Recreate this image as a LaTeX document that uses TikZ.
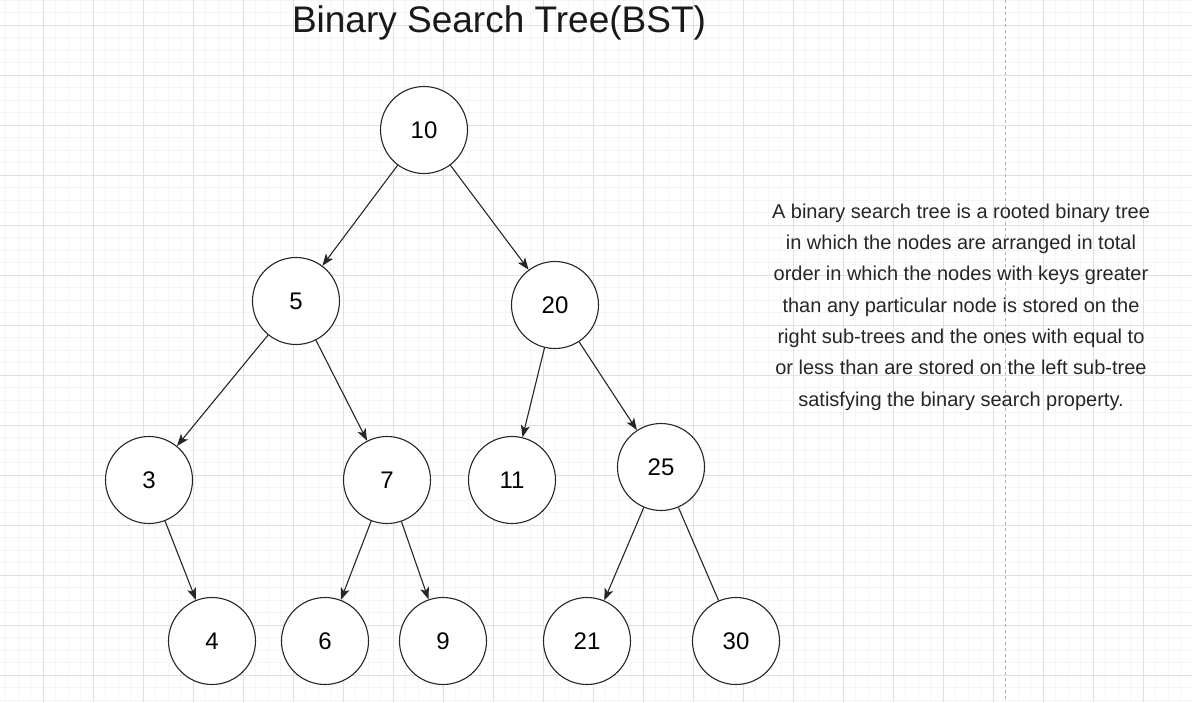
\documentclass[tikz,border=0pt]{standalone}
\usepackage{fontspec}
\setmainfont{Liberation Sans}
\usetikzlibrary{arrows.meta}
\begin{document}
\begin{tikzpicture}[x=1pt,y=-1pt,
  bst/.style={circle,draw=black!85,line width=1.1pt,fill=white,minimum size=87pt,inner sep=0pt,font=\fontsize{24}{28}\selectfont},
  edge/.style={draw=black!85,line width=1.1pt,-{Stealth[length=12pt,width=9pt,inset=3pt]}},
  plain/.style={draw=black!85,line width=1.1pt}]
\useasboundingbox (0,0) rectangle (1192,702);
\fill[white] (0,0) rectangle (1192,702);
% grid
\foreach \i in {0,...,95} {\draw[black!4,line width=0.6pt] (5.5+12.5*\i,0) -- (5.5+12.5*\i,702);}
\foreach \i in {0,...,56} {\draw[black!4,line width=0.6pt] (0,12.5*\i) -- (1192,12.5*\i);}
\foreach \i in {0,...,23} {\draw[black!12,line width=0.8pt] (43+50*\i,0) -- (43+50*\i,702);}
\foreach \i in {0,...,13} {\draw[black!12,line width=0.8pt] (0,25+50*\i) -- (1192,25+50*\i);}
\draw[black!30,dashed,line width=0.8pt] (1005,0) -- (1005,702);
% title
\node[anchor=base,font=\fontsize{37}{40}\selectfont,text=black!90] (title) at (499,32) {Binary Search Tree(BST)};
% nodes
\node[bst] (n10) at (424,130) {10};
\node[bst] (n5) at (296,301) {5};
\node[bst] (n20) at (555,305) {20};
\node[bst] (n3) at (149,480) {3};
\node[bst] (n7) at (387,480) {7};
\node[bst] (n11) at (512,480) {11};
\node[bst] (n25) at (661,467) {25};
\node[bst] (n4) at (212,641) {4};
\node[bst] (n6) at (325,641) {6};
\node[bst] (n9) at (443,641) {9};
\node[bst] (n21) at (587,641) {21};
\node[bst] (n30) at (736,641) {30};
% edges
\draw[edge] (n10) -- (n5);
\draw[edge] (n10) -- (n20);
\draw[edge] (n5) -- (n3);
\draw[edge] (n5) -- (n7);
\draw[edge] (n20) -- (n11);
\draw[edge] (n20) -- (n25);
\draw[edge] (n3) -- (n4);
\draw[edge] (n7) -- (n6);
\draw[edge] (n7) -- (n9);
\draw[edge] (n25) -- (n21);
\draw[plain] (n25) -- (n30);
% description
\node[align=center,font=\fontsize{20}{31.3}\selectfont,text=black!85] (desc) at (961,307) {A binary search tree is a rooted binary tree\\in which the nodes are arranged in total\\order in which the nodes with keys greater\\than any particular node is stored on the\\right sub-trees and the ones with equal to\\or less than are stored on the left sub-tree\\satisfying the binary search property.};
\end{tikzpicture}
\end{document}
